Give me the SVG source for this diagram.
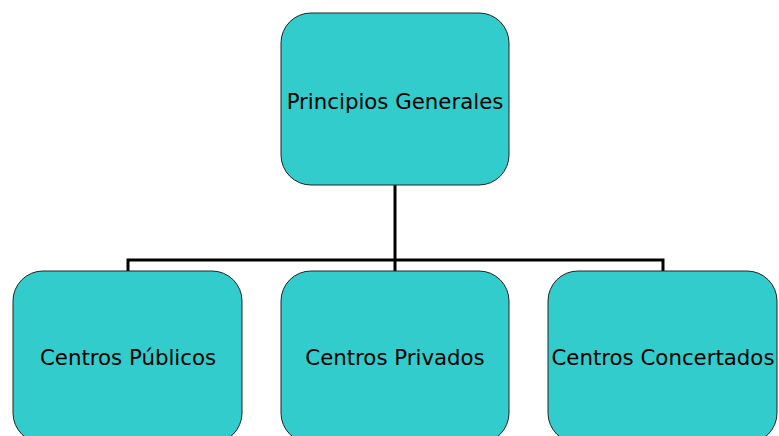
<svg xmlns="http://www.w3.org/2000/svg" width="779" height="436" viewBox="0 0 779 436">
<style>
.box{fill:#33CCCC;stroke:#222;stroke-width:1}
.lbl{font-family:"DejaVu Sans",Verdana,sans-serif;font-size:21.3px;fill:#000;text-anchor:middle}
.con{fill:none;stroke:#000;stroke-width:3}
</style>
<rect width="779" height="436" fill="#fff"/>
<g id="connectors">
<path class="con" d="M395 185 V260 M128 272 V260 H663 V272 M395 260 V272"/>
</g>
<g id="principios">
<rect class="box" x="281" y="13" width="228" height="172" rx="30"/>
<text class="lbl" x="395" y="109">Principios Generales</text>
</g>
<g id="publicos">
<rect class="box" x="13" y="271" width="229" height="172" rx="30"/>
<text class="lbl" x="128" y="365">Centros Públicos</text>
</g>
<g id="privados">
<rect class="box" x="281" y="271" width="228" height="172" rx="30"/>
<text class="lbl" x="395" y="365">Centros Privados</text>
</g>
<g id="concertados">
<rect class="box" x="548" y="271" width="229" height="172" rx="30"/>
<text class="lbl" x="663" y="365">Centros Concertados</text>
</g>
</svg>
